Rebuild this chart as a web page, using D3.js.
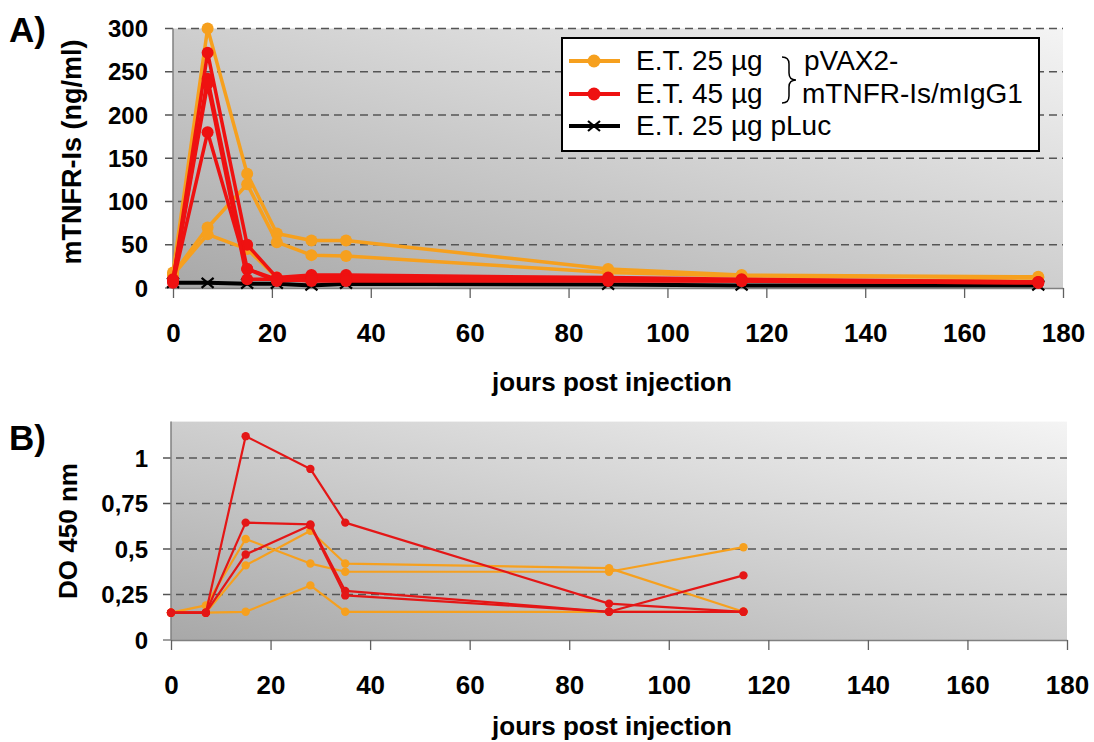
<!DOCTYPE html>
<html>
<head>
<meta charset="utf-8">
<script src="https://cdn.jsdelivr.net/npm/d3@7"></script>
<style>
  body { margin: 0; background: #fff; }
  text { font-family: "Liberation Sans", Arial, sans-serif; }
</style>
</head>
<body>
<script>
//Données
const daysA = [0, 7, 15, 21, 28, 35, 88, 115, 175];
const orangeA = [
    [18, 300, 132, 63, 55, 55, 22, 15, 13],
    [16, 70, 120, 53, 38, 37, 18, 14, 12],
    [15, 62, 45, 12, 10, 10, 10, 9, 8]
];
const redA = [
    [8, 272, 50, 12, 15, 15, 12, 10, 7],
    [10, 242, 22, 10, 12, 12, 10, 9, 7],
    [6, 180, 22, 8, 10, 10, 9, 8, 6],
    [9, 236, 10, 10, 8, 8, 8, 8, 6]
];
const lucA = [6, 6, 5, 5, 3, 5, 4, 3, 3];

const daysB = [0, 7, 15, 28, 35, 88, 115];
const orangeB = [
    [0.15, 0.19, 0.555, 0.42, 0.375, 0.375, 0.51],
    [0.15, 0.15, 0.41, 0.6, 0.42, 0.395, 0.155],
    [0.15, 0.15, 0.155, 0.3, 0.155, 0.155, 0.155]
];
const redB = [
    [0.15, 0.15, 1.12, 0.94, 0.645, 0.2, 0.155],
    [0.15, 0.15, 0.645, 0.635, 0.27, 0.155, 0.355],
    [0.15, 0.15, 0.47, 0.63, 0.245, 0.155, 0.155]
];

const xTicks = [0, 20, 40, 60, 80, 100, 120, 140, 160, 180];
const yTicksA = [0, 50, 100, 150, 200, 250, 300];
const yTicksB = [0, 0.25, 0.5, 0.75, 1];
const yLabelsB = ['0', '0,25', '0,5', '0,75', '1'];

const legendLabels = ['E.T. 25 µg', 'E.T. 45 µg', 'E.T. 25 µg pLuc'];

//Couleurs
const ORANGE = '#F6A01E',
    RED = '#EE1111',
    BLACK = '#000000',
    AXIS = '#808080',
    GRID = '#555555';

const svg = d3.select('body').append('svg')
    .attr('width', 1094)
    .attr('height', 742);

const grad = svg.append('defs').append('linearGradient')
    .attr('id', 'bg')
    .attr('x1', 0).attr('y1', 1)
    .attr('x2', 1).attr('y2', 0);
grad.append('stop').attr('offset', 0).attr('stop-color', '#a8a8a8');
grad.append('stop').attr('offset', 0.55).attr('stop-color', '#d2d2d2');
grad.append('stop').attr('offset', 1).attr('stop-color', '#f4f4f4');

//Panneau A
let xA = d3.scaleLinear().domain([0, 180]).range([173, 1063]);
let yA = d3.scaleLinear().domain([0, 300]).range([288, 28.5]);

//Panneau B
let xB = d3.scaleLinear().domain([0, 180]).range([171, 1067]);
let yB = d3.scaleLinear().domain([0, 1.2]).range([640, 421.6]);

function drawFrame(x, y, yTicks, yLabels, ymax) {
    let g = svg.append('g');
    g.append('rect')
        .attr('x', x(0))
        .attr('y', y(ymax))
        .attr('width', x(180) - x(0))
        .attr('height', y(0) - y(ymax))
        .attr('fill', 'url(#bg)');

    //lignes de grille
    g.selectAll('.grid')
        .data(yTicks.filter(function(d) { return d > 0; }))
        .enter()
        .append('line')
        .attr('x1', x(0) - 8)
        .attr('x2', x(180))
        .attr('y1', function(d) { return y(d); })
        .attr('y2', function(d) { return y(d); })
        .attr('stroke', GRID)
        .attr('stroke-width', 1.3)
        .attr('stroke-dasharray', '8,5');

    g.append('line')
        .attr('x1', x(0) - 8).attr('x2', x(0))
        .attr('y1', y(0)).attr('y2', y(0))
        .attr('stroke', AXIS).attr('stroke-width', 1.5);

    //axe x
    let xAxis = g.append('g')
        .attr('transform', 'translate(0,' + y(0) + ')')
        .call(d3.axisBottom(x).tickValues(xTicks).tickSize(10).tickSizeOuter(0).tickFormat(d3.format('d')));
    xAxis.select('.domain').attr('stroke', AXIS).attr('stroke-width', 1.5);
    xAxis.selectAll('.tick line').attr('stroke', '#606060').attr('stroke-width', 1.3);
    xAxis.selectAll('.tick text')
        .attr('y', 54)
        .attr('dy', 0)
        .style('font-size', '26px')
        .style('font-weight', 'bold')
        .attr('fill', '#000');

    //axe y
    g.append('line')
        .attr('x1', x(0)).attr('x2', x(0))
        .attr('y1', y(ymax)).attr('y2', y(0))
        .attr('stroke', AXIS).attr('stroke-width', 1.5);

    g.selectAll('.ylab')
        .data(yTicks)
        .enter()
        .append('text')
        .attr('x', 148)
        .attr('y', function(d) { return y(d); })
        .attr('dy', '0.36em')
        .attr('text-anchor', 'end')
        .style('font-size', '24px')
        .style('font-weight', 'bold')
        .text(function(d, i) { return yLabels[i]; });
    return g;
}

function drawSeries(x, y, days, series, color, lw, r) {
    let line = d3.line()
        .x(function(d, i) { return x(days[i]); })
        .y(function(d) { return y(d); });
    series.forEach(function(vals) {
        svg.append('path')
            .datum(vals)
            .attr('d', line)
            .attr('fill', 'none')
            .attr('stroke', color)
            .attr('stroke-width', lw)
            .attr('stroke-linejoin', 'round');
        svg.selectAll(null)
            .data(vals)
            .enter()
            .append('circle')
            .attr('cx', function(d, i) { return x(days[i]); })
            .attr('cy', function(d) { return y(d); })
            .attr('r', r)
            .attr('fill', color);
    });
}

drawFrame(xA, yA, yTicksA, yTicksA.map(String), 300);
drawFrame(xB, yB, yTicksB, yLabelsB, 1.2);

//Séries A
drawSeries(xA, yA, daysA, orangeA, ORANGE, 3.5, 6);

let lineLuc = d3.line()
    .x(function(d, i) { return xA(daysA[i]); })
    .y(function(d) { return yA(d); });
svg.append('path')
    .datum(lucA)
    .attr('d', lineLuc)
    .attr('fill', 'none')
    .attr('stroke', BLACK)
    .attr('stroke-width', 4);
svg.selectAll('.cross')
    .data(lucA)
    .enter()
    .append('path')
    .attr('d', function(d, i) {
        let cx = xA(daysA[i]), cy = yA(d);
        return 'M' + (cx - 6) + ',' + (cy - 5) + 'L' + (cx + 6) + ',' + (cy + 5) +
            'M' + (cx - 6) + ',' + (cy + 5) + 'L' + (cx + 6) + ',' + (cy - 5);
    })
    .attr('stroke', BLACK)
    .attr('stroke-width', 2.2);

drawSeries(xA, yA, daysA, redA, RED, 3.5, 6);

//Séries B
drawSeries(xB, yB, daysB, orangeB, ORANGE, 2.2, 4.2);
drawSeries(xB, yB, daysB, redB, '#E41616', 2.2, 4.2);

//Légende
let legend = svg.append('g');
legend.append('rect')
    .attr('x', 562).attr('y', 38)
    .attr('width', 477).attr('height', 113)
    .attr('fill', '#fff')
    .attr('stroke', '#000')
    .attr('stroke-width', 2);

let legendColors = [ORANGE, RED, BLACK];
let legendY = [61, 94, 126];
legendColors.forEach(function(c, i) {
    legend.append('line')
        .attr('x1', 569).attr('x2', 620)
        .attr('y1', legendY[i]).attr('y2', legendY[i])
        .attr('stroke', c)
        .attr('stroke-width', 4);
    if (i < 2) {
        legend.append('circle')
            .attr('cx', 594).attr('cy', legendY[i])
            .attr('r', 6.5).attr('fill', c);
    } else {
        legend.append('path')
            .attr('d', 'M588,121L600,131M588,131L600,121')
            .attr('stroke', c).attr('stroke-width', 2.2);
    }
    legend.append('text')
        .attr('x', 636)
        .attr('y', legendY[i] + 9)
        .style('font-size', '28px')
        .text(legendLabels[i]);
});

legend.append('path')
    .attr('d', 'M782,57 Q789,57 789,64 L789,73 Q789,80 796,80 Q789,80 789,87 L789,96 Q789,103 782,103')
    .attr('fill', 'none')
    .attr('stroke', '#000')
    .attr('stroke-width', 1.5);
legend.append('text').attr('x', 804).attr('y', 70).style('font-size', '28px').text('pVAX2-');
legend.append('text').attr('x', 802).attr('y', 103).style('font-size', '28px').text('mTNFR-Is/mIgG1');

//Titres
svg.append('text')
    .attr('x', 9).attr('y', 42)
    .style('font-size', '35px').style('font-weight', 'bold')
    .text('A)');
svg.append('text')
    .attr('x', 9).attr('y', 450)
    .style('font-size', '35px').style('font-weight', 'bold')
    .text('B)');

svg.append('text')
    .attr('transform', 'translate(81,152) rotate(-90)')
    .attr('text-anchor', 'middle')
    .style('font-size', '27px').style('font-weight', 'bold')
    .text('mTNFR-Is (ng/ml)');
svg.append('text')
    .attr('transform', 'translate(77,531) rotate(-90)')
    .attr('text-anchor', 'middle')
    .style('font-size', '26px').style('font-weight', 'bold')
    .text('DO 450 nm');

svg.append('text')
    .attr('x', 612).attr('y', 391)
    .attr('text-anchor', 'middle')
    .style('font-size', '26px').style('font-weight', 'bold')
    .text('jours post injection');
svg.append('text')
    .attr('x', 612).attr('y', 735)
    .attr('text-anchor', 'middle')
    .style('font-size', '26px').style('font-weight', 'bold')
    .text('jours post injection');
</script>
</body>
</html>
